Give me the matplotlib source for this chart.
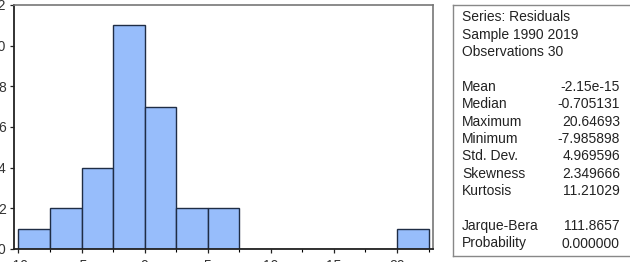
import matplotlib
matplotlib.use("Agg")
import matplotlib.pyplot as plt

# histogram of residuals (bin left edges, width 2.5)
bin_left = [-10, -7.5, -5, -2.5, 0, 2.5, 5, 7.5, 10, 12.5, 15, 17.5, 20]
counts = [1, 2, 4, 11, 7, 2, 2, 0, 0, 0, 0, 0, 1]
bin_width = 2.5

stat_labels = ["Mean", "Median", "Maximum", "Minimum", "Std. Dev.",
               "Skewness", "Kurtosis", "", "Jarque-Bera", "Probability"]
stat_values = ["-2.15e-15", "-0.705131", "20.64693", "-7.985898", "4.969596",
               "2.349666", "11.21029", "", "111.8657", "0.000000"]
header = ["Series: Residuals", "Sample 1990 2019", "Observations 30", ""]

plt.rcParams["font.family"] = ["Liberation Sans", "DejaVu Sans"]
plt.rcParams["font.size"] = 10
plt.rcParams["axes.unicode_minus"] = False

fig = plt.figure(figsize=(6.3, 2.62), dpi=100)
W, H = 630, 262

ax = fig.add_axes([14 / W, 13 / H, (433 - 14) / W, (249 - 5) / H])
ax.bar(bin_left, counts, width=bin_width, align="edge",
       color="#97bdfb", edgecolor="#1f2d45", linewidth=1.0, zorder=2)
ax.set_xlim(-10.35, 22.85)
ax.set_ylim(0, 12)
ax.set_xticks([-10, -5, 0, 5, 10, 15, 20])
ax.set_xticks([-7.5, -2.5, 2.5, 7.5, 12.5, 17.5, 22.5], minor=True)
ax.set_yticks([0, 2, 4, 6, 8, 10, 12])
ax.tick_params(axis="both", length=3, width=0.9, colors="#222222",
               labelcolor="#333333")
ax.tick_params(axis="x", pad=4)
ax.tick_params(axis="x", which="minor", length=2.5, width=0.8)
ax.tick_params(axis="y", pad=3)
for s in ["left", "bottom"]:
    ax.spines[s].set_color("#222222")
    ax.spines[s].set_linewidth(1.3)
for s in ["top", "right"]:
    ax.spines[s].set_color("#777777")
    ax.spines[s].set_linewidth(1.2)

# statistics box
bx = fig.add_axes([453 / W, 6 / H, 0.4, (256 - 5) / H])
bx.set_xticks([])
bx.set_yticks([])
for s in bx.spines.values():
    s.set_color("#888888")
    s.set_linewidth(1.0)

lines_left = header + stat_labels
lines_right = [""] * len(header) + stat_values
step = 17.4
for i, (l, r) in enumerate(zip(lines_left, lines_right)):
    ypix = H - (17.3 + i * step)
    fig.text(462 / W, ypix / H, l, ha="left", va="center", color="#222222")
    if r:
        fig.text(620 / W, ypix / H, r, ha="right", va="center", color="#222222")

fig.savefig("out.png", dpi=100)
